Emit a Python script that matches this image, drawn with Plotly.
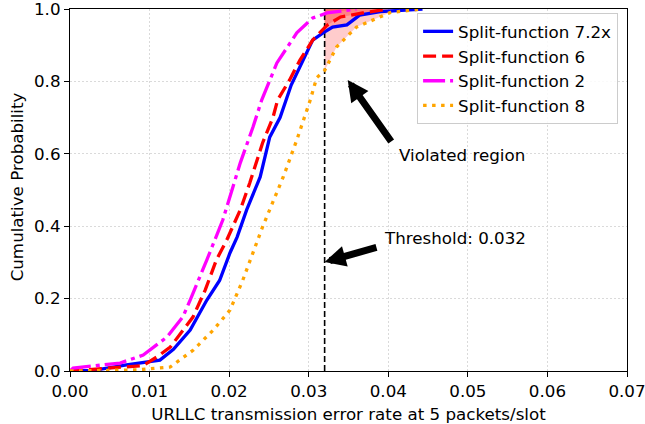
import numpy as np
import plotly.graph_objects as go

# ---- data ----
threshold = 0.032

sf72_x = [0.0, 0.003, 0.0071, 0.010, 0.0113, 0.013, 0.0151, 0.0172, 0.0188, 0.0201, 0.021, 0.0222,
          0.0239, 0.0251, 0.0264, 0.0278, 0.0293, 0.0305, 0.0318, 0.033, 0.0348, 0.0364, 0.039, 0.0443]
sf72_y = [0.0, 0.002, 0.017, 0.025, 0.03, 0.06, 0.113, 0.196, 0.25, 0.326, 0.37, 0.445,
          0.536, 0.646, 0.70, 0.79, 0.859, 0.914, 0.934, 0.95, 0.956, 0.983, 0.993, 1.0]

sf6_x = [0.0, 0.0054, 0.0092, 0.011, 0.0126, 0.01545, 0.017, 0.0184, 0.0197, 0.0214, 0.0226,
         0.0242, 0.0255, 0.0261, 0.0276, 0.0289, 0.0305, 0.0323, 0.034, 0.0368, 0.040]
sf6_y = [0.0, 0.01, 0.015, 0.04, 0.066, 0.149, 0.224, 0.307, 0.362, 0.445, 0.52,
         0.63, 0.70, 0.749, 0.804, 0.859, 0.914, 0.955, 0.978, 0.989, 1.0]

sf2_x = [0.0, 0.0004, 0.0063, 0.0092, 0.0122, 0.0142, 0.0151, 0.016, 0.0172, 0.0192, 0.0214,
         0.023, 0.0241, 0.026, 0.0285, 0.0305, 0.0323, 0.036]
sf2_y = [0.0, 0.008, 0.022, 0.044, 0.094, 0.15, 0.196, 0.243, 0.307, 0.417, 0.575,
         0.674, 0.749, 0.851, 0.934, 0.975, 0.989, 1.0]

sf8_x = [0.0, 0.0084, 0.0126, 0.0155, 0.018, 0.0201, 0.0217, 0.0242, 0.0268, 0.0285, 0.0302,
         0.031, 0.032, 0.0335, 0.036, 0.039, 0.0402, 0.043, 0.044]
sf8_y = [0.0, 0.003, 0.011, 0.058, 0.113, 0.168, 0.25, 0.398, 0.536, 0.638, 0.749,
         0.81, 0.83, 0.895, 0.95, 0.978, 0.99, 0.997, 1.0]

series = [
    ("Split-function 7.2x", sf72_x, sf72_y, "#0000ff", "solid"),
    ("Split-function 6", sf6_x, sf6_y, "#ff0000", "13px,6px"),
    ("Split-function 2", sf2_x, sf2_y, "#ff00ff", "22px,5px,4px,5px"),
    ("Split-function 8", sf8_x, sf8_y, "#ffa500", "3.5px,5.5px"),
]

x_ticks = [0.0, 0.01, 0.02, 0.03, 0.04, 0.05, 0.06, 0.07]
y_ticks = [0.0, 0.2, 0.4, 0.6, 0.8, 1.0]

FONT = "DejaVu Sans"
FS = 16.7
fig = go.Figure()

# violated region fills (one per curve, stacking alpha)
for name, xs, ys, color, dash in series:
    xs = np.array(xs); ys = np.array(ys)
    y_at = float(np.interp(threshold, xs, ys))
    mask = xs > threshold
    px = [threshold] + list(xs[mask]) + [max(xs[mask].max(), threshold), threshold]
    py = [y_at] + list(ys[mask]) + [1.0, 1.0]
    fig.add_trace(go.Scatter(x=px, y=py, mode="lines", fill="toself",
                             fillcolor="rgba(255,0,0,0.2)", line=dict(width=0),
                             showlegend=False, hoverinfo="skip"))

# threshold line
fig.add_trace(go.Scatter(x=[threshold, threshold], y=[0, 1], mode="lines",
                         line=dict(color="black", width=1.6, dash="6px,3px"),
                         showlegend=False, hoverinfo="skip"))

for name, xs, ys, color, dash in series:
    fig.add_trace(go.Scatter(x=xs, y=ys, mode="lines", name=name,
                             line=dict(color=color, width=3.3, dash=dash)))

# arrows
fig.add_annotation(x=0.0349, y=0.804, ax=0.0405, ay=0.63, xref="x", yref="y",
                   axref="x", ayref="y", text="", showarrow=True, arrowhead=2,
                   arrowwidth=7, arrowsize=0.6, arrowcolor="black", standoff=0)
fig.add_annotation(x=threshold, y=0.301, ax=0.0387, ay=0.3425, xref="x", yref="y",
                   axref="x", ayref="y", text="", showarrow=True, arrowhead=2,
                   arrowwidth=7, arrowsize=0.6, arrowcolor="black", standoff=0)
fig.add_annotation(x=0.0411, y=0.597, text="Violated region", showarrow=False,
                   xanchor="left", yanchor="middle", font=dict(family=FONT, size=FS, color="black"))
fig.add_annotation(x=0.0392, y=0.367, text="Threshold: 0.032", showarrow=False,
                   xanchor="left", yanchor="middle", font=dict(family=FONT, size=FS, color="black"))

# y-axis title placed as rotated text
fig.add_annotation(x=-0.0952, y=0.51, xref="paper", yref="paper", text="Cumulative Probability",
                   textangle=-90, showarrow=False, xanchor="center", yanchor="middle",
                   font=dict(family=FONT, size=FS, color="black"))

axis_common = dict(showline=True, mirror=True, linecolor="black", linewidth=1.2,
                   ticks="outside", ticklen=5, tickcolor="black", tickwidth=1.2,
                   showgrid=True, gridcolor="#dadada", griddash="2px,2px", gridwidth=1,
                   zeroline=False, automargin=False, ticklabeloverflow="allow",
                   tickfont=dict(family=FONT, size=FS, color="black"))

fig.update_xaxes(range=[0, 0.07], tickvals=x_ticks, ticktext=[f"{v:.2f}" for v in x_ticks],
                 title=dict(text="URLLC transmission error rate at 5 packets/slot",
                            font=dict(family=FONT, size=FS, color="black")),
                 **axis_common)
fig.update_yaxes(range=[0, 1], tickvals=y_ticks, ticktext=[f"{v:.1f}" for v in y_ticks],
                 **axis_common)

fig.update_layout(
    width=645, height=424, autosize=False,
    margin=dict(l=70, r=18, t=9, b=53),
    plot_bgcolor="white", paper_bgcolor="white",
    font=dict(family=FONT, size=FS, color="black"),
    legend=dict(x=0.984, y=0.989, xanchor="right", yanchor="top",
                bgcolor="rgba(255,255,255,0.85)", bordercolor="#cccccc", borderwidth=1,
                font=dict(family=FONT, size=FS, color="black"), tracegroupgap=0),
)

fig.write_html("out.html", config={"displayModeBar": False},
               post_script="document.body.style.margin='0px';")
